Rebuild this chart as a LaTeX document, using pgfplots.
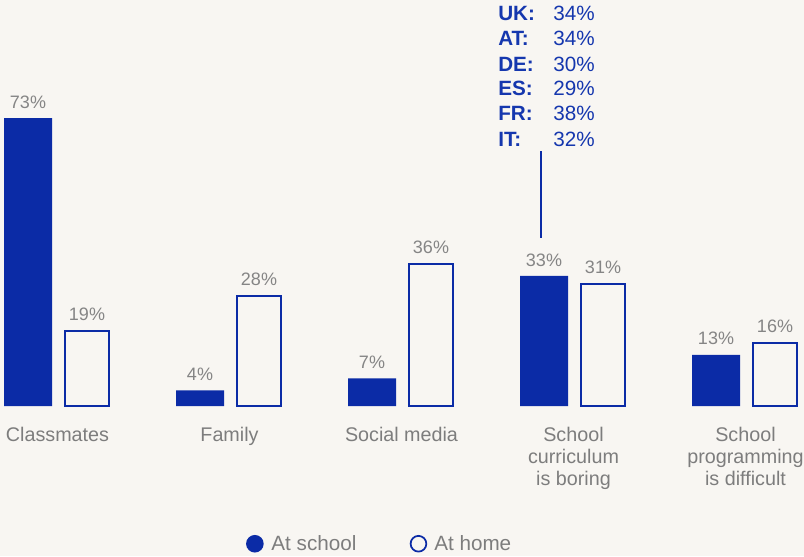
\documentclass[border=0pt]{standalone}
\usepackage{fontspec}
\setmainfont{Liberation Sans}
\usepackage{pgfplots}
\pgfplotsset{compat=1.18}
\definecolor{bgcol}{HTML}{F8F6F2}
\definecolor{schoolblue}{HTML}{0B2BA6}
\definecolor{annoblue}{HTML}{1537AE}
\definecolor{labgray}{HTML}{7D7D7D}
\definecolor{valgray}{HTML}{858585}
\pagecolor{bgcol}

% bars sit at pixel-like x positions, groups are 172 apart
\pgfplotstableread{
x    y
28   73
200  4
372  7
544  33
716  13
}\schooldata
\pgfplotstableread{
x    y
87   19
259  28
431  36
603  31
775  16
}\homedata

\begin{document}
\begin{tikzpicture}
\begin{axis}[
    name=ax,
    x=0.75pt, y=2.959pt,
    xmin=0, xmax=804, ymin=0, ymax=102.92,
    axis line style={draw=none},
    major tick length=0pt,
    ytick=\empty,
    xtick={57.5,229.5,401.5,573.5,745.5},
    xticklabels={Classmates, Family, Social media,
        School\\curriculum\\is boring, School\\programming\\is difficult},
    xticklabel style={anchor=north, inner sep=0pt, yshift=-15.5pt, align=center,
        font=\fontsize{14.8}{16.5}\selectfont, text=labgray},
    clip=false,
    ybar, bar shift=0pt,
    nodes near coords={\pgfmathprintnumber{\pgfplotspointmeta}\%},
    nodes near coords style={font=\fontsize{13.5}{14}\selectfont, text=valgray,
        inner sep=0pt, anchor=south, yshift=7pt},
    /pgf/number format/assume math mode=true,
    legend columns=2,
    legend style={draw=none, fill=none, at={(axis cs:380,-34.9)}, anchor=center,
        font=\fontsize{15.5}{16}\selectfont, text=labgray,
        /tikz/every even column/.append style={column sep=38pt},
        legend cell align=left},
]
\addplot[fill=schoolblue, draw=none, bar width=48,
    legend image code/.code={\fill[schoolblue] (6.6pt,0pt) circle (6.6pt);
        \path (17pt,0pt);}]
    table[x=x, y=y] {\schooldata};
\addlegendentry{At school}
\addplot[fill=bgcol, draw=schoolblue, line width=1.5pt, bar width=44,
    legend image code/.code={\draw[schoolblue, line width=1.3pt, fill=bgcol] (6.4pt,0pt) circle (5.9pt);
        \path (15.5pt,0pt);}]
    table[x=x, y=y] {\homedata};
\addlegendentry{At home}

\draw[schoolblue, line width=1.5pt] (axis cs:541,64.6) -- (axis cs:541,42.5);
\node[anchor=base west, inner sep=0pt, text=annoblue, font=\fontsize{15.5}{18}\selectfont]
    at (axis cs:498,97.6) {\makebox[41.25pt][l]{\bfseries UK:}34\%};
\node[anchor=base west, inner sep=0pt, text=annoblue, font=\fontsize{15.5}{18}\selectfont]
    at (axis cs:498,91.26) {\makebox[41.25pt][l]{\bfseries AT:}34\%};
\node[anchor=base west, inner sep=0pt, text=annoblue, font=\fontsize{15.5}{18}\selectfont]
    at (axis cs:498,84.92) {\makebox[41.25pt][l]{\bfseries DE:}30\%};
\node[anchor=base west, inner sep=0pt, text=annoblue, font=\fontsize{15.5}{18}\selectfont]
    at (axis cs:498,78.59) {\makebox[41.25pt][l]{\bfseries ES:}29\%};
\node[anchor=base west, inner sep=0pt, text=annoblue, font=\fontsize{15.5}{18}\selectfont]
    at (axis cs:498,72.25) {\makebox[41.25pt][l]{\bfseries FR:}38\%};
\node[anchor=base west, inner sep=0pt, text=annoblue, font=\fontsize{15.5}{18}\selectfont]
    at (axis cs:498,65.66) {\makebox[41.25pt][l]{\bfseries IT:}32\%};
\end{axis}
\pgfresetboundingbox
\path[use as bounding box] ([yshift=-112.5pt]ax.south west) rectangle (ax.north east);
\end{tikzpicture}
\end{document}
